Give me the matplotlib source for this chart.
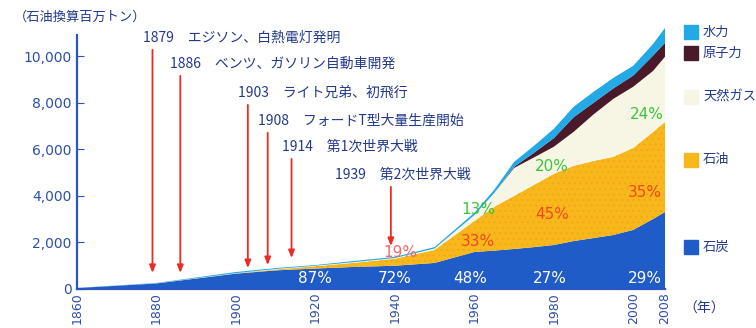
import matplotlib
matplotlib.use("Agg")
import matplotlib.pyplot as plt
from matplotlib.patches import Rectangle

plt.rcParams["font.family"] = ["Noto Sans CJK JP", "DejaVu Sans"]
plt.rcParams["hatch.linewidth"] = 0.6

# 石油換算百万トン
years = [1860, 1880, 1900, 1910, 1920, 1930, 1940, 1950, 1960, 1965,
         1970, 1975, 1980, 1985, 1990, 1995, 2000, 2005, 2008]
coal = [40, 240, 660, 800, 880, 950, 1000, 1120, 1590, 1650,
        1720, 1800, 1890, 2060, 2190, 2320, 2540, 3010, 3310]
oil = [0, 0, 10, 40, 100, 180, 300, 560, 1330, 1880,
       2280, 2670, 3060, 3230, 3310, 3360, 3520, 3740, 3870]
gas = [0, 5, 10, 20, 20, 30, 30, 60, 250, 590,
       1200, 1180, 1160, 1460, 2000, 2490, 2630, 2620, 2800]
nuclear = [0, 0, 0, 0, 0, 0, 0, 0, 0, 0,
           50, 200, 370, 630, 500, 450, 480, 660, 600]
hydro = [5, 15, 50, 40, 30, 50, 50, 60, 100, 140,
         210, 300, 400, 450, 470, 450, 420, 500, 640]

labels = ["石炭", "石油", "天然ガス", "原子力", "水力"]
colors = ["#1f5cc8", "#f8b81c", "#f7f6e4", "#4a1a2a", "#22a9e6"]

# events: year, text, arrow top, arrow bottom
ev_years = [1879, 1886, 1903, 1908, 1914, 1939]
ev_texts = ["エジソン、白熱電灯発明", "ベンツ、ガソリン自動車開発", "ライト兄弟、初飛行",
            "フォードT型大量生産開始", "第1次世界大戦", "第2次世界大戦"]
ev_top = [10280, 9160, 7910, 6710, 5590, 4390]
ev_bottom = [690, 690, 900, 1030, 1330, 1850]

# share labels: year, value, text
coal_pct = [(1920, 430, "87%"), (1940, 430, "72%"), (1959, 430, "48%"),
            (1979, 430, "27%"), (2003, 430, "29%")]
oil_pct = [(1941.5, 1550, "19%"), (1961, 2020, "33%"), (1979.5, 3180, "45%"),
           (2003, 4130, "35%")]
gas_pct = [(1961, 3400, "13%"), (1979.5, 5250, "20%"), (2003.5, 7480, "24%")]

xticks = [1860, 1880, 1900, 1920, 1940, 1960, 1980, 2000, 2008]
yticks = [0, 2000, 4000, 6000, 8000, 10000]

fig = plt.figure(figsize=(7.56, 3.28), dpi=100)
ax = fig.add_axes([77 / 756, 39 / 328, 588 / 756, 263 / 328])

polys = ax.stackplot(years, coal, oil, gas, nuclear, hydro, colors=colors, lw=0)
polys[1].set_hatch("...")
polys[1].set_edgecolor("#f2a41c")
polys[1].set_linewidth(0)

ax.set_xlim(1860, 2008)
ax.set_ylim(0, 11300)

blue = "#2a55c8"
for s in ["top", "right"]:
    ax.spines[s].set_visible(False)
ax.spines["left"].set_color(blue)
ax.spines["bottom"].set_color(blue)
ax.spines["left"].set_linewidth(1.6)
ax.spines["bottom"].set_linewidth(1.6)
ax.spines["left"].set_bounds(0, 10900)

ax.set_yticks(yticks)
ax.set_yticklabels([f"{v:,}" for v in yticks], family="DejaVu Sans")
ax.tick_params(axis="y", direction="in", length=5, color=blue,
               labelcolor="#2c4fae", labelsize=10, pad=4)
ax.set_xticks(xticks)
ax.set_xticklabels([str(v) for v in xticks], rotation=90, family="DejaVu Sans")
ax.tick_params(axis="x", length=0, labelcolor="#2c4fae", labelsize=9, pad=2)

text_col = "#233a8c"
red = "#ee2a22"
for yr, txt, top, bot in zip(ev_years, ev_texts, ev_top, ev_bottom):
    ax.annotate("", xy=(yr, bot), xytext=(yr, top),
                arrowprops=dict(arrowstyle="-|>,head_length=0.45,head_width=0.18",
                                color=red, lw=1.3, shrinkA=0, shrinkB=0))
    dx = 14 if yr == 1939 else 2.5
    ax.text(yr - dx, top + 200, f"{yr}　{txt}", color=text_col, fontsize=10,
            ha="left", va="bottom")

for x, y, t in coal_pct:
    ax.text(x, y, t, color="white", fontsize=11, ha="center", va="center",
            family="DejaVu Sans")
for x, y, t in oil_pct:
    c = "#f26a6a" if t == "19%" else "#f04a1c"
    ax.text(x, y, t, color=c, fontsize=11, ha="center", va="center",
            family="DejaVu Sans")
for x, y, t in gas_pct:
    ax.text(x, y, t, color="#3cc43c", fontsize=11, ha="center", va="center",
            family="DejaVu Sans")

# legend on the right
leg_y = [247, 160, 97, 53, 32]
for lab, col, yy in zip(labels, colors, leg_y):
    fig.patches.append(Rectangle((684 / 756, (328 - yy - 7) / 328), 14 / 756, 14 / 328,
                                 transform=fig.transFigure, color=col))
    fig.text(703 / 756, (328 - yy) / 328, lab, color=text_col, fontsize=9.5,
             va="center", ha="left")

fig.text(14 / 756, (328 - 17) / 328, "（石油換算百万トン）", color=text_col,
         fontsize=9.5, va="center", ha="left")
fig.text(683 / 756, (328 - 309) / 328, "（年）", color=text_col,
         fontsize=10, va="center", ha="left")

fig.savefig("out.png", dpi=100)
